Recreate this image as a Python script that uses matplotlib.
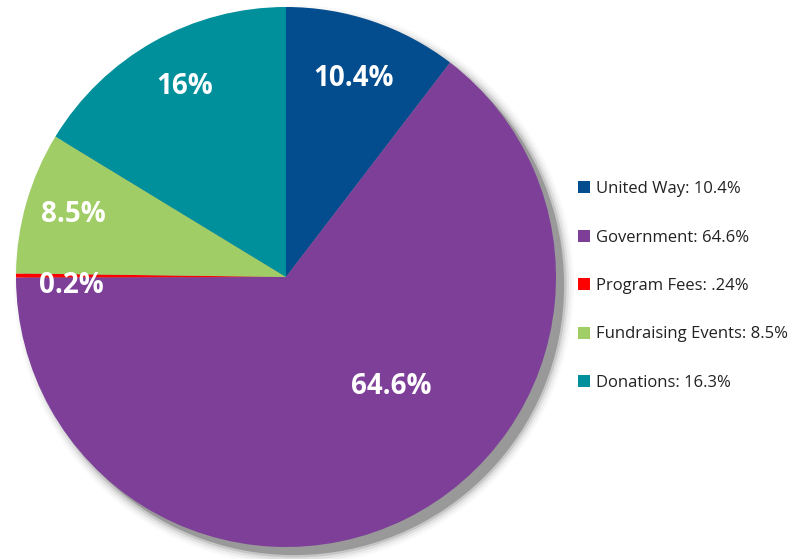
import matplotlib
matplotlib.use("Agg")
import matplotlib.pyplot as plt
from matplotlib.patches import Circle

categories = ["United Way", "Government", "Program Fees", "Fundraising Events", "Donations"]
values = [10.4, 64.6, 0.24, 8.5, 16.3]
legend_labels = ["United Way: 10.4%", "Government: 64.6%", "Program Fees: .24%",
                 "Fundraising Events: 8.5%", "Donations: 16.3%"]
slice_labels = ["10.4%", "64.6%", "0.2%", "8.5%", "16%"]
colors = ["#034C8E", "#7D3F98", "#FF0000", "#A0CD66", "#00909B"]

W, H = 801, 559
fig = plt.figure(figsize=(W / 100, H / 100), dpi=100)
cx, cy, R = 286, 277, 270
ax = fig.add_axes([(cx - R) / W, (H - cy - R) / H, 2 * R / W, 2 * R / H])

wedges, _ = ax.pie(values, colors=colors, startangle=90, counterclock=False,
                   radius=1.0, wedgeprops=dict(linewidth=0))
for w in wedges:
    w.set_zorder(2)
ax.set_xlim(-1, 1)
ax.set_ylim(-1, 1)
ax.set_aspect("equal")
ax.axis("off")

# soft shadow
off = 0.03
for dr, a in [(0.036, 0.06), (0.027, 0.1), (0.018, 0.18), (0.009, 0.35), (0.0, 1.0)]:
    ax.add_patch(Circle((off, -off), 1.0 + dr, color="#999999", alpha=a, lw=0,
                        zorder=0, clip_on=False))

label_pos = [(0.252, 0.735), (0.39, -0.405), (-0.795, -0.03), (-0.787, 0.23), (-0.374, 0.705)]
for lab, (x, y) in zip(slice_labels, label_pos):
    ax.text(x, y, lab, color="white", fontsize=20, fontweight="bold",
            family=["Open Sans", "DejaVu Sans"], ha="center", va="center", zorder=5)

leg = fig.legend(wedges, legend_labels, loc="center left",
                 bbox_to_anchor=(563 / W, 1 - 286 / H), frameon=False,
                 handlelength=0.7, handleheight=0.7, handletextpad=0.35,
                 labelspacing=1.95, prop={"family": ["Open Sans", "DejaVu Sans"], "size": 12})
for t in leg.get_texts():
    t.set_color("#222222")

fig.savefig("out.png", dpi=100)
